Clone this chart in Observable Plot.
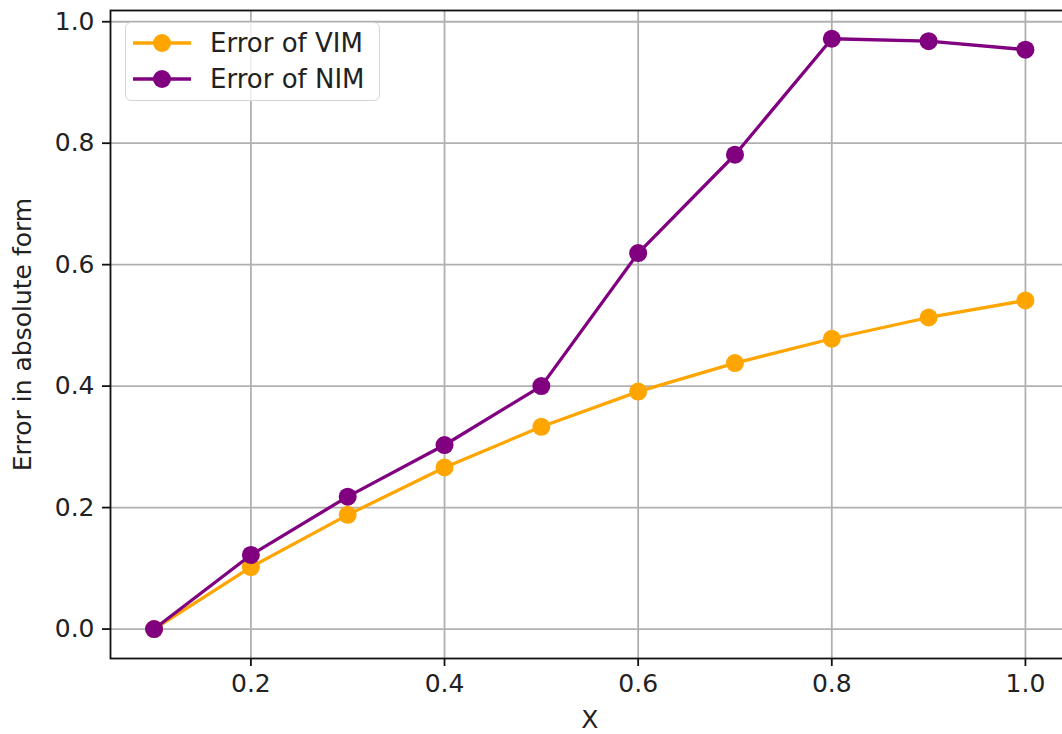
<!DOCTYPE html>
<html>
<head>
<meta charset="utf-8">
<script src="https://cdn.jsdelivr.net/npm/d3@7"></script>
<script src="https://cdn.jsdelivr.net/npm/@observablehq/plot@0.6"></script>
<style>
  html, body { margin: 0; padding: 0; background: white; overflow: hidden; }
  #wrap { position: relative; width: 1062px; height: 734px; }
  #legend { position: absolute; left: 125px; top: 22px; width: 253px; height: 77px;
    border: 1.6px solid #d6d6d6; border-radius: 6px; background: rgba(255,255,255,0.8);
    font-family: "DejaVu Sans", sans-serif; font-size: 26px; color: #222; box-sizing: content-box; }
  .item { position: absolute; left: 0; height: 30px; display: flex; align-items: center; }
  .item svg { margin-left: 7px; }
  .item span { margin-left: 19px; }
</style>
</head>
<body>
<div id="wrap"></div>
<script>
const xValues = [0.1, 0.2, 0.3, 0.4, 0.5, 0.6, 0.7, 0.8, 0.9, 1.0];
const vimError = [0, 0.102, 0.188, 0.266, 0.333, 0.391, 0.438, 0.478, 0.513, 0.541];
const nimError = [0, 0.122, 0.218, 0.303, 0.400, 0.619, 0.781, 0.972, 0.968, 0.954];
const seriesNames = ["Error of VIM", "Error of NIM"];
const seriesColors = ["orange", "purple"];
const xTicks = [0.2, 0.4, 0.6, 0.8, 1.0];
const yTicks = [0.0, 0.2, 0.4, 0.6, 0.8, 1.0];
const xLabel = "X";
const yLabel = "Error in absolute form";

const vimData = xValues.map((x, i) => ({x, y: vimError[i]}));
const nimData = xValues.map((x, i) => ({x, y: nimError[i]}));

const font = "DejaVu Sans, sans-serif";
const chart = Plot.plot({
  width: 1062,
  height: 734,
  marginLeft: 110,
  marginTop: 10,
  marginBottom: 76,
  marginRight: -6.5,
  style: {fontFamily: font, fontSize: "25px", color: "#222", background: "white"},
  x: {domain: [0.055, 1.045]},
  y: {domain: [-0.0485, 1.0185]},
  marks: [
    Plot.gridX(xTicks, {stroke: "#b0b0b0", strokeOpacity: 1, strokeWidth: 1.8}),
    Plot.gridY(yTicks, {stroke: "#b0b0b0", strokeOpacity: 1, strokeWidth: 1.8}),
    Plot.frame({stroke: "#111", strokeWidth: 1.8}),
    Plot.axisX({ticks: xTicks, tickSize: 8, tickPadding: 8, tickFormat: d => d.toFixed(1), label: null, fontSize: 25, stroke: "#111", strokeWidth: 1.8}),
    Plot.axisY({ticks: yTicks, tickSize: 8, tickPadding: 8, tickFormat: d => d.toFixed(1), label: null, fontSize: 25, stroke: "#111", strokeWidth: 1.8}),
    Plot.text([xLabel], {frameAnchor: "bottom", dy: 61, lineAnchor: "middle", textAnchor: "middle", fontSize: 25, fill: "#222"}),
    Plot.text([yLabel], {frameAnchor: "left", dx: -88, rotate: -90, lineAnchor: "middle", textAnchor: "middle", fontSize: 25, fill: "#222"}),
    Plot.line(vimData, {x: "x", y: "y", stroke: seriesColors[0], strokeWidth: 3.3}),
    Plot.dot(vimData, {x: "x", y: "y", r: 9, fill: seriesColors[0], stroke: null}),
    Plot.line(nimData, {x: "x", y: "y", stroke: seriesColors[1], strokeWidth: 3.3}),
    Plot.dot(nimData, {x: "x", y: "y", r: 9, fill: seriesColors[1], stroke: null})
  ]
});
const wrap = document.getElementById("wrap");
wrap.appendChild(chart);

const legend = document.createElement("div");
legend.id = "legend";
seriesNames.forEach((name, i) => {
  const item = document.createElement("div");
  item.className = "item";
  item.style.top = (5 + i * 36) + "px";
  item.innerHTML = `<svg width="58" height="24"><line x1="0" y1="12" x2="58" y2="12" stroke="${seriesColors[i]}" stroke-width="3.3"/><circle cx="29" cy="12" r="9" fill="${seriesColors[i]}"/></svg><span>${name}</span>`;
  legend.appendChild(item);
});
wrap.appendChild(legend);
</script>
</body>
</html>
